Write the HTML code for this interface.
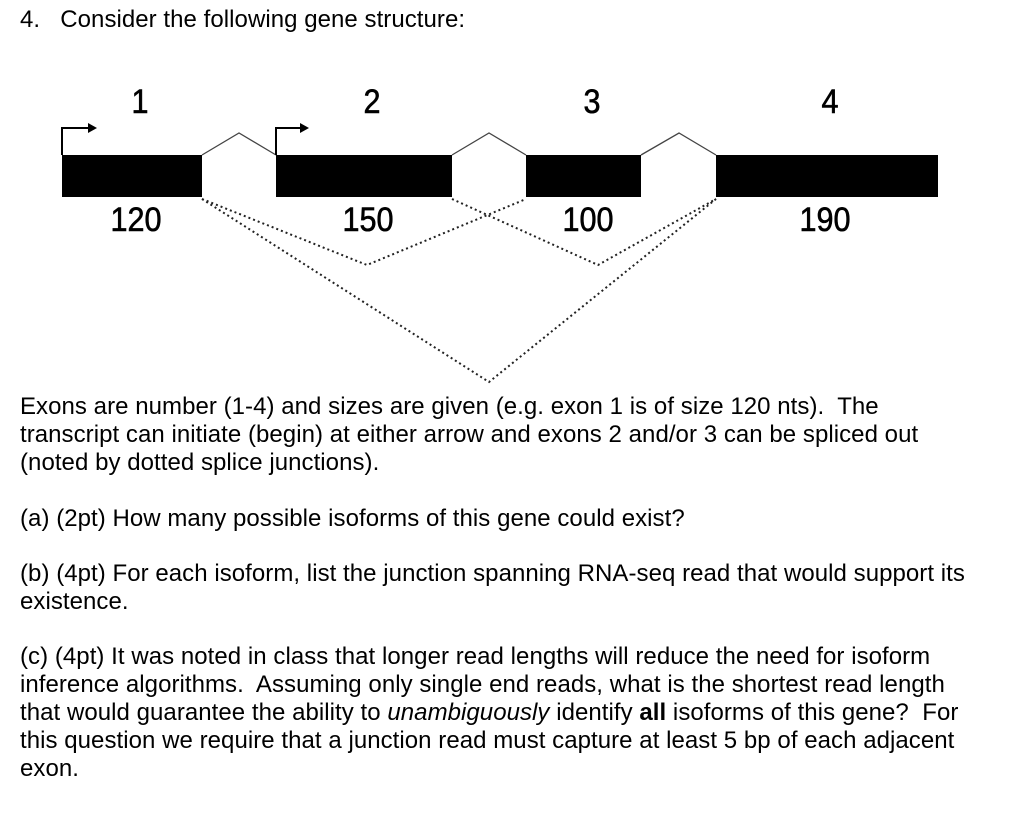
<html><head><style>
body{margin:0;background:#fff;width:1024px;height:815px;position:relative;font-family:"Liberation Sans",Arial,sans-serif;color:#000;overflow:hidden}
.t{position:absolute;left:20px;font-size:24px;line-height:28px;white-space:nowrap;letter-spacing:0.05px}
</style></head><body>
<div class="t" style="top:6px">4.&nbsp;&nbsp;&nbsp;Consider the following gene structure:</div>
<svg style="position:absolute;left:0;top:0" width="1024" height="400">
<g fill="#000">
<rect x="62" y="155" width="140" height="42"/>
<rect x="276" y="155" width="176" height="42"/>
<rect x="526" y="155" width="115" height="42"/>
<rect x="716" y="155" width="222" height="42"/>
</g>
<g fill="none" stroke="#444" stroke-width="1.3">
<polyline points="202,155 239,133 276,155"/>
<polyline points="452,155 489,133 526,155"/>
<polyline points="641,155 679,133 716,155"/>
</g>
<g fill="none" stroke="#000" stroke-width="2">
<polyline points="62,155 62,128 90,128"/>
<polyline points="276,155 276,128 302,128"/>
</g>
<polygon points="97,128 88,123 88,133" fill="#000"/>
<polygon points="309,128 300,123 300,133" fill="#000"/>
<g fill="none" stroke="#222" stroke-width="2" stroke-dasharray="2,3">
<polyline points="202,199 367,265 526,199"/>
<polyline points="452,199 598,265 716,199"/>
<polyline points="202,199 489,382 716,199"/>
</g>
<g font-family="Liberation Sans,Arial,sans-serif" font-size="34" text-anchor="middle" stroke="#000" stroke-width="0.6">
<text x="140" y="113" transform="translate(140,0) scale(0.9,1) translate(-140,0)">1</text>
<text x="372" y="113" transform="translate(372,0) scale(0.9,1) translate(-372,0)">2</text>
<text x="592" y="113" transform="translate(592,0) scale(0.9,1) translate(-592,0)">3</text>
<text x="830" y="113" transform="translate(830,0) scale(0.9,1) translate(-830,0)">4</text>
<text x="136" y="231" transform="translate(136,0) scale(0.9,1) translate(-136,0)">120</text>
<text x="368" y="231" transform="translate(368,0) scale(0.9,1) translate(-368,0)">150</text>
<text x="588" y="231" transform="translate(588,0) scale(0.9,1) translate(-588,0)">100</text>
<text x="825" y="231" transform="translate(825,0) scale(0.9,1) translate(-825,0)">190</text>
</g>
</svg>
<div class="t" style="top:393px">Exons are number (1-4) and sizes are given (e.g. exon 1 is of size 120 nts).&nbsp; The</div>
<div class="t" style="top:421px">transcript can initiate (begin) at either arrow and exons 2 and/or 3 can be spliced out</div>
<div class="t" style="top:449px">(noted by dotted splice junctions).</div>
<div class="t" style="top:505px">(a) (2pt) How many possible isoforms of this gene could exist?</div>
<div class="t" style="top:560px">(b) (4pt) For each isoform, list the junction spanning RNA-seq read that would support its</div>
<div class="t" style="top:588px">existence.</div>
<div class="t" style="top:643px">(c) (4pt) It was noted in class that longer read lengths will reduce the need for isoform</div>
<div class="t" style="top:671px">inference algorithms.&nbsp; Assuming only single end reads, what is the shortest read length</div>
<div class="t" style="top:699px">that would guarantee the ability to <i>unambiguously</i> identify <b>all</b> isoforms of this gene?&nbsp; For</div>
<div class="t" style="top:727px">this question we require that a junction read must capture at least 5 bp of each adjacent</div>
<div class="t" style="top:755px">exon.</div>
</body></html>
